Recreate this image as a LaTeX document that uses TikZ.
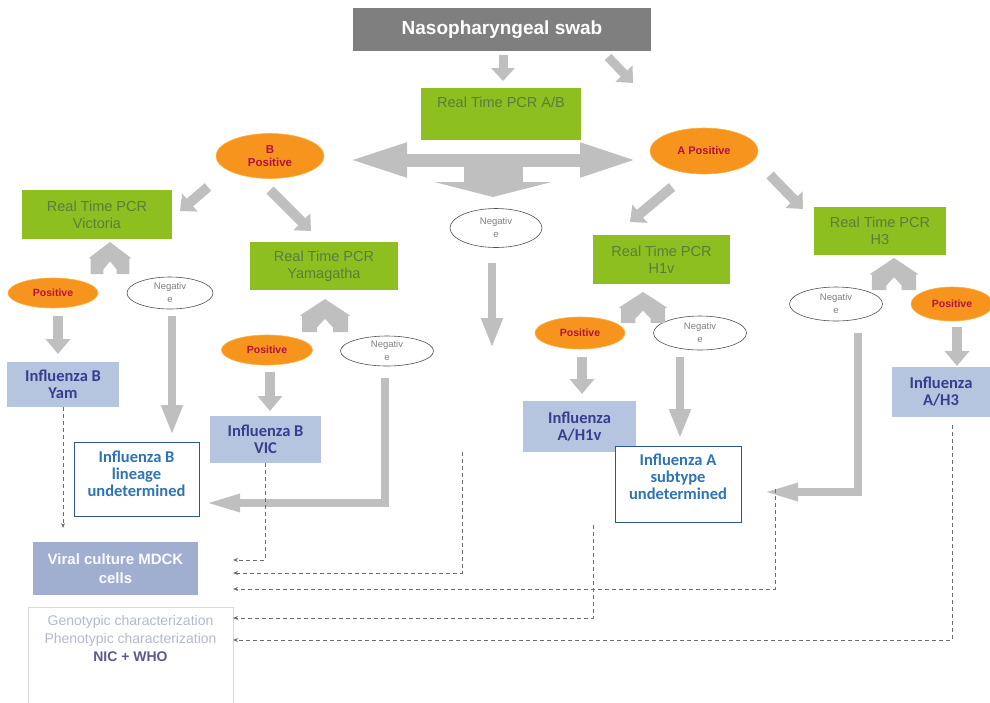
\documentclass[tikz,border=0pt]{standalone}
\usepackage{fontspec}
\setmainfont{Liberation Sans}
\newfontfamily\calib{Carlito}
\usetikzlibrary{arrows.meta,shapes.geometric}
\definecolor{pcrgreen}{HTML}{8CBF1F}
\definecolor{pcrtext}{HTML}{5A7E3C}
\definecolor{orangeF}{HTML}{F7941E}
\definecolor{orangeB}{HTML}{FBB040}
\definecolor{postext}{HTML}{B3123F}
\definecolor{negborder}{HTML}{505050}
\definecolor{negtext}{HTML}{808080}
\definecolor{resblue}{HTML}{B5C4DF}
\definecolor{restext}{HTML}{3A3D8F}
\definecolor{undborder}{HTML}{2F5496}
\definecolor{undtext}{HTML}{2E74B5}
\definecolor{viralfill}{HTML}{A0AED0}
\definecolor{chartext}{HTML}{B3BACE}
\definecolor{nictext}{HTML}{5C5A8C}
\definecolor{charborder}{HTML}{D9D9D9}
\definecolor{arrowgray}{HTML}{BFBFBF}
\definecolor{dashgray}{HTML}{6E6E6E}
\definecolor{swabfill}{HTML}{7F7F7F}
% split chevron: apex x, apex y, half width, height
\newcommand\splitchevron[4]{%
  \fill[arrowgray, shift={(#1,#2)}] (0,0) -- (-#3,0.5*#4) -- (-0.92*#3,0.52*#4) -- (-0.92*#3,#4)
    -- (-0.32*#3,#4) -- (-0.32*#3,0.86*#4) -- (0,0.6*#4) -- (0.32*#3,0.86*#4) -- (0.32*#3,#4)
    -- (0.92*#3,#4) -- (0.92*#3,0.52*#4) -- (#3,0.5*#4) -- cycle;}
\begin{document}
\begin{tikzpicture}[x=1pt,y=-1pt,
  gbox/.style={rectangle, fill=pcrgreen, text=pcrtext, font=\fontsize{14.5}{17}\selectfont, align=center, inner sep=0pt},
  posell/.style={ellipse, fill=orangeF, draw=orangeB, line width=0.6pt, text=postext, font=\bfseries\fontsize{10.5}{13}\selectfont, align=center, inner sep=0pt},
  negell/.style={ellipse, draw=negborder, line width=0.6pt, fill=white, text=negtext, font=\fontsize{9.5}{13}\selectfont, align=center, inner sep=0pt},
  resbox/.style={rectangle, fill=resblue, text=restext, font=\calib\bfseries\fontsize{16.5}{17}\selectfont, align=center, inner sep=0pt},
  undbox/.style={rectangle, draw=undborder, line width=1pt, fill=white, text=undtext, font=\calib\bfseries\fontsize{16.5}{17}\selectfont, align=center, inner sep=0pt},
  smallfat/.style={draw=arrowgray, line width=10pt, -{Triangle[length=13pt,width=23pt]}},
  vertfat/.style={draw=arrowgray, line width=10pt, -{Triangle[length=15pt,width=24pt]}},
  longfat/.style={draw=arrowgray, line width=8pt, -{Triangle[length=30pt,width=20pt]}},
  bentfat/.style={draw=arrowgray, line width=8pt, line join=miter, -{Triangle[length=36pt,width=16pt]}},
  dashline/.style={draw=dashgray, line width=0.8pt, dash pattern=on 4pt off 3pt, -{Stealth[length=5pt,width=4pt]}}
]
\useasboundingbox (0,0) rectangle (990,702);

% ---------- nodes ----------
\node[rectangle, fill=swabfill, text=white, font=\bfseries\fontsize{19}{22}\selectfont, minimum width=298pt, minimum height=43pt, inner sep=0pt] (swab) at (502,29.5) {Nasopharyngeal swab};
\node[gbox, minimum width=160pt, minimum height=52pt] (ab) at (501,114) {Real Time PCR A/B\\[7pt]\mbox{}};
\node[posell, minimum width=108pt, minimum height=45pt, font=\bfseries\fontsize{11.5}{13}\selectfont] (bpos) at (270,156) {B\\Positive};
\node[posell, minimum width=108pt, minimum height=46pt, font=\bfseries\fontsize{11}{13}\selectfont] (apos) at (704,151) {A Positive};
\node[gbox, minimum width=150pt, minimum height=49pt] (vic) at (97,214.5) {Real Time PCR\\Victoria};
\node[gbox, minimum width=148pt, minimum height=48pt] (yam) at (324,266) {Real Time PCR\\Yamagatha};
\node[negell, minimum width=92pt, minimum height=39pt] (negm) at (496,228) {Negativ\\e};
\node[gbox, minimum width=137pt, minimum height=49pt] (h1v) at (661.5,259.5) {Real Time PCR\\H1v};
\node[gbox, minimum width=132pt, minimum height=48pt] (h3) at (880,231) {Real Time PCR\\H3};

\node[posell, minimum width=90pt, minimum height=30pt] (pos1) at (53,293) {Positive};
\node[negell, minimum width=86pt, minimum height=32pt] (neg1) at (170,293) {Negativ\\e};
\node[posell, minimum width=91pt, minimum height=30pt] (pos2) at (267,350) {Positive};
\node[negell, minimum width=93pt, minimum height=30pt] (neg2) at (387,351) {Negativ\\e};
\node[posell, minimum width=90pt, minimum height=32pt] (pos3) at (580,333) {Positive};
\node[negell, minimum width=93pt, minimum height=34pt] (neg3) at (700,333) {Negativ\\e};
\node[negell, minimum width=93pt, minimum height=34pt] (neg4) at (836,304) {Negativ\\e};
\node[posell, minimum width=82pt, minimum height=34pt] (pos4) at (952,304) {Positive};

\node[resbox, minimum width=112pt, minimum height=45pt] (yambox) at (63,384.5) {Influenza B\\Yam};
\node[undbox, minimum width=125pt, minimum height=74pt] (linbox) at (136.5,479) {Influenza B\\lineage\\undetermined\\[-6pt]\mbox{}};
\node[resbox, minimum width=111pt, minimum height=47pt] (vicbox) at (265.5,439.5) {Influenza B\\VIC};
\node[resbox, minimum width=113pt, minimum height=51pt] (h1vbox) at (579.5,426.5) {Influenza\\A/H1v};
\node[undbox, minimum width=126pt, minimum height=76pt] (subbox) at (678,484) {Influenza A\\subtype\\undetermined\\[-3pt]\mbox{}};
\node[resbox, minimum width=98pt, minimum height=50pt] (h3box) at (941,392) {Influenza\\A/H3};

\node[rectangle, fill=viralfill, text=white!95!viralfill, font=\bfseries\fontsize{15}{19}\selectfont, align=center, minimum width=165pt, minimum height=53pt, inner sep=0pt] (viral) at (115.5,568.5) {Viral culture MDCK\\cells};
\node[rectangle, draw=charborder, line width=0.8pt, fill=white, text=chartext, font=\fontsize{14}{18}\selectfont, align=center, minimum width=205pt, minimum height=105pt, inner sep=0pt] (charbox) at (130.5,659.5) {Genotypic characterization\\Phenotypic characterization\\\textcolor{nictext}{\bfseries NIC + WHO}\\[25pt]\mbox{}};

% ---------- big split arrow under A/B ----------
\coordinate (hub) at (493,160);
\coordinate (hubL) at (348,160);
\coordinate (hubR) at (638,160);
\coordinate (hubD) at (493,197);
\draw[draw=arrowgray, line width=13pt, -{Triangle[length=59pt,width=31pt]}] (hub) -- (hubL);
\draw[draw=arrowgray, line width=13pt, -{Triangle[length=58pt,width=31pt]}] (hub) -- (hubR);
\draw[draw=arrowgray, line width=59pt, -{Triangle[length=15pt,width=117pt]}] (hub) -- (hubD);

% ---------- small diagonal / down arrows ----------
\coordinate (s1a) at (503,55);  \coordinate (s1b) at (503,81);
\coordinate (s2a) at (608,57);  \coordinate (s2b) at (633,83);
\coordinate (b1a) at (208,187); \coordinate (b1b) at (180,211);
\coordinate (b2a) at (270,190); \coordinate (b2b) at (311,231);
\coordinate (a1a) at (672,187); \coordinate (a1b) at (630,222);
\coordinate (a2a) at (770,175); \coordinate (a2b) at (803,209);
\draw[smallfat, line width=9pt] (s1a) -- (s1b);
\draw[smallfat, line width=9pt] (s2a) -- (s2b);
\draw[smallfat] (b1a) -- (b1b);
\draw[smallfat] (b2a) -- (b2b);
\draw[smallfat] (a1a) -- (a1b);
\draw[smallfat] (a2a) -- (a2b);

% ---------- split chevrons ----------
\splitchevron{110}{242}{21}{32}
\splitchevron{325}{299}{25}{33}
\splitchevron{643}{292}{24}{31}
\splitchevron{894}{258}{24}{32}

% ---------- vertical arrows ----------
\coordinate (p1a) at (58,316);  \coordinate (p1b) at (58,354);
\coordinate (p2a) at (270,372); \coordinate (p2b) at (270,411);
\coordinate (p3a) at (582,357); \coordinate (p3b) at (582,394);
\coordinate (p4a) at (957,327); \coordinate (p4b) at (957,366);
\draw[vertfat] (p1a) -- (p1b);
\draw[vertfat] (p2a) -- (p2b);
\draw[vertfat] (p3a) -- (p3b);
\draw[vertfat] (p4a) -- (p4b);

\coordinate (n1a) at (172,316); \coordinate (n1b) at (172,435);
\coordinate (nma) at (492,263); \coordinate (nmb) at (492,348);
\coordinate (n3a) at (680,357); \coordinate (n3b) at (680,439);
\draw[longfat] (n1a) -- (n1b);
\draw[longfat] (nma) -- (nmb);
\draw[longfat] (n3a) -- (n3b);

\coordinate (n2a) at (385,378); \coordinate (n2c) at (385,503); \coordinate (n2b) at (204,503);
\coordinate (n4a) at (858,333); \coordinate (n4c) at (858,492); \coordinate (n4b) at (762,492);
\draw[bentfat] (n2a) -- (n2c) -- (n2b);
\draw[bentfat] (n4a) -- (n4c) -- (n4b);

% ---------- dashed lines ----------
\coordinate (yd) at (63,528);
\draw[dashline] (yambox.south) -- (yd);
\coordinate (e1) at (233,560);
\draw[dashline] (vicbox.south) |- (e1);
\coordinate (m2) at (462,452); \coordinate (e2) at (233,573);
\draw[dashline] (m2) |- (e2);
\coordinate (m3) at (775,489); \coordinate (e3) at (233,589);
\draw[dashline] (m3) |- (e3);
\coordinate (m4) at (593,525); \coordinate (e4) at (233,618);
\draw[dashline] (m4) |- (e4);
\coordinate (m5) at (952,425); \coordinate (e5) at (233,640);
\draw[dashline] (m5) |- (e5);

\end{tikzpicture}
\end{document}
